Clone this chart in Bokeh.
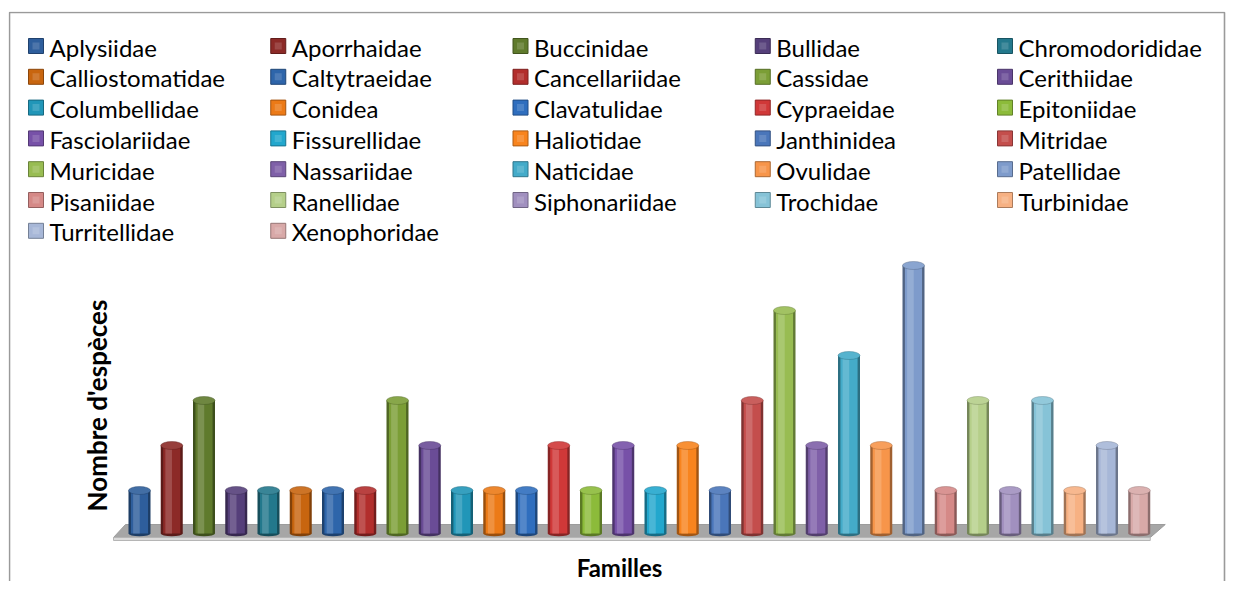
import math
from bokeh.plotting import figure
from bokeh.models import Range1d, ColumnDataSource
from bokeh.core.properties import value
from bokeh.embed import file_html
from bokeh.resources import INLINE

families = ["Aplysiidae", "Aporrhaidae", "Buccinidae", "Bullidae", "Chromodorididae",
            "Calliostomatidae", "Caltytraeidae", "Cancellariidae", "Cassidae", "Cerithiidae",
            "Columbellidae", "Conidea", "Clavatulidae", "Cypraeidae", "Epitoniidae",
            "Fasciolariidae", "Fissurellidae", "Haliotidae", "Janthinidea", " Mitridae",
            "Muricidae", "Nassariidae", "Naticidae", "Ovulidae", "Patellidae",
            "Pisaniidae", "Ranellidae", "Siphonariidae", "Trochidae", "Turbinidae",
            "Turritellidae", "Xenophoridae"]
species = [1, 2, 3, 1, 1,
           1, 1, 1, 3, 2,
           1, 1, 1, 2, 1,
           2, 1, 2, 1, 3,
           5, 2, 4, 2, 6,
           1, 3, 1, 3, 1,
           2, 1]
colors = ["#2E5E9C", "#8C2A27", "#5F7A2C", "#553F7A", "#23788C",
          "#C8650F", "#2E65AA", "#B22E2C", "#7B9E36", "#6A4C96",
          "#2196B8", "#EC7A17", "#2F6EBE", "#D03838", "#8CBB3A",
          "#7751A8", "#22A7CD", "#F8841E", "#4A76BA", "#C44E4C",
          "#98BC52", "#7F60A8", "#44ABC9", "#F7954A", "#7E9BCB",
          "#D58987", "#B5CF8A", "#A190BF", "#86C3D7", "#F7B183",
          "#A7B7D7", "#D8A9A8"]
x_title = "Familles"
y_title = "Nombre d'espèces"


def shade(hexc, f):
    r, g, b = int(hexc[1:3], 16), int(hexc[3:5], 16), int(hexc[5:7], 16)
    if f < 0:
        r, g, b = [int(c * (1 + f)) for c in (r, g, b)]
    else:
        r, g, b = [int(c + (255 - c) * f) for c in (r, g, b)]
    return "#%02X%02X%02X" % (r, g, b)


n = len(families)
xs = list(range(n))

# layout constants (pixels, figure coordinates)
PX0, PXS = 139.0, 32.25      # x of first bar centre, spacing
PY0, PYS = 531.0, 45.0       # y of zero, pixels per unit
FL, FT = 8, 11               # frame left / top
FR, FB = 1226, 581           # frame right / bottom
W, H = FR, FB


def dx(px):
    return (px - PX0) / PXS


def dy(py):
    return (PY0 - py) / PYS


p = figure(width=W, height=H, output_backend="svg", toolbar_location=None,
           x_axis_location=None, y_axis_location=None,
           min_border_left=FL, min_border_right=0, min_border_bottom=0, min_border_top=FT,
           x_range=Range1d(dx(FL), dx(FR)), y_range=Range1d(dy(FB), dy(FT)))
p.grid.visible = False
p.outline_line_color = None
p.background_fill_color = "white"
p.border_fill_color = "white"

# chart area border (left, top, right; bottom lies beyond the window)
p.line([dx(9), dx(9), dx(FR - 2), dx(FR - 2)], [dy(FB + 5), dy(12), dy(12), dy(FB + 5)],
       line_color="#9A9A9A", line_width=1.6)

# floor (3D base)
fx_top = [dx(125), dx(PX0 + PXS * (n - 1) + 26)]
fx_bot = [dx(113), dx(PX0 + PXS * (n - 1) + 11)]
p.patch([fx_bot[0], fx_top[0], fx_top[1], fx_bot[1]],
        [dy(537), dy(524), dy(524), dy(537)],
        fill_color="#A6A6A6", line_color="#9C9C9C", line_width=1)
p.patch([fx_bot[0], fx_bot[1], fx_bot[1], fx_bot[0]],
        [dy(537), dy(537), dy(540), dy(540)],
        fill_color="#DADADA", line_color="#B5B5B5", line_width=1)

bw = 22 / PXS
cap = 8 / PYS
src = ColumnDataSource(dict(
    x=xs,
    top=[v - cap / 2 for v in species],
    capy=[v - cap / 2 for v in species],
    xh=[x - bw * 0.14 for x in xs],
    edge=[shade(c, -0.35) for c in colors],
    base=colors,
    light=[shade(c, 0.22) for c in colors],
    capc=[shade(c, 0.10) for c in colors],
))
bot = dy(533)
p.vbar(x="x", top="top", bottom=bot, width=bw, source=src, fill_color="edge", line_color=None)
p.ellipse(x="x", y=bot, width=bw, height=cap * 0.7, source=src, fill_color="edge", line_color=None)
p.vbar(x="x", top="top", bottom=bot, width=bw * 0.78, source=src, fill_color="base", line_color=None)
p.vbar(x="xh", top="top", bottom=bot, width=bw * 0.3, source=src, fill_color="light",
       line_color=None, fill_alpha=0.8)
p.ellipse(x="x", y="capy", width=bw, height=cap, source=src, fill_color="capc",
          line_color="edge", line_width=0.6, line_alpha=0.7)

# legend (5 columns, row-major)
ncol = 5
lx, ly = [], []
tx, ty = [], []
for i, name in enumerate(families):
    r, c = divmod(i, ncol)
    mleft = 28 + 242.25 * c
    yc = 45.5 + 30.8 * r
    lx.append(dx(mleft + 7.5))
    ly.append(dy(yc))
    tx.append(dx(mleft + 21))
    ty.append(dy(yc + 1))
lsrc = ColumnDataSource(dict(x=lx, y=ly, tx=tx, ty=ty, text=families, base=colors,
                             edge=[shade(c, -0.3) for c in colors],
                             light=[shade(c, 0.25) for c in colors]))
p.rect(x="x", y="y", width=15, height=15, width_units="screen", height_units="screen",
       source=lsrc, fill_color="base", line_color="edge", line_width=1)
p.rect(x="x", y="y", width=7, height=7, width_units="screen", height_units="screen",
       source=lsrc, fill_color="light", line_color=None, fill_alpha=0.6)
p.text(x="tx", y="ty", text="text", source=lsrc, text_font=value("Lato"),
       text_font_size="24px", text_baseline="middle", text_align="left", text_color="black")

# axis titles
p.text(x=[dx(619)], y=[dy(567)], text=[x_title], text_font=value("Lato"), text_font_style="bold",
       text_font_size="24px", text_baseline="middle", text_align="center", text_color="black")
p.text(x=[dx(96)], y=[dy(405)], text=[y_title], text_font=value("Lato"), text_font_style="bold",
       text_font_size="26px", text_baseline="middle", text_align="center", text_color="black",
       angle=math.pi / 2)

open("out.html", "w").write(file_html(p, INLINE))
